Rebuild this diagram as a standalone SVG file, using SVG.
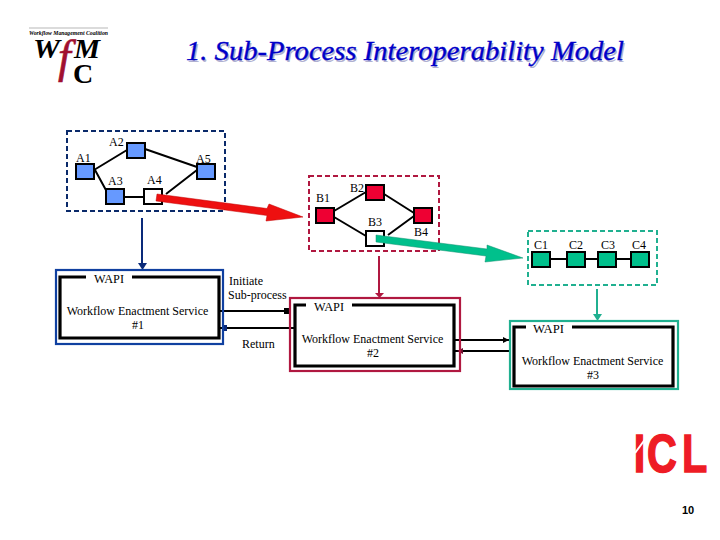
<svg xmlns="http://www.w3.org/2000/svg" width="720" height="540" viewBox="0 0 720 540">
<style>
text{font-family:"Liberation Serif","Times New Roman",serif;font-size:12px;fill:#000}
.edge{stroke:#000;stroke-width:2;fill:none}
.n{stroke:#000;stroke-width:2}
.a{fill:#6699ff}.b{fill:#ee0033}.c{fill:#00c08c}.w{fill:#fff}
.dash{fill:none;stroke-width:2;stroke-dasharray:5 3}
.outer{fill:none;stroke-width:2.2}
.inner{fill:none;stroke:#000;stroke-width:3.2}
.line{stroke:#000;stroke-width:2;fill:none}
.m{text-anchor:middle}
.ttl{font-size:28px;font-style:italic;stroke-width:.35}
</style>
<rect width="720" height="540" fill="#fff"/>
<g id="logo-wfmc">
<line x1="29" y1="28" x2="108" y2="28" stroke="#999" stroke-width="0.7"/>
<text x="29" y="35" textLength="79" lengthAdjust="spacingAndGlyphs" style="font-size:7px;font-style:italic;font-weight:bold">Workflow Management Coalition</text>
<text x="33" y="58" textLength="27" lengthAdjust="spacingAndGlyphs" style="font-size:27px;font-weight:bold;font-style:italic">W</text>
<text x="74" y="58" textLength="26" lengthAdjust="spacingAndGlyphs" style="font-size:27px;font-weight:bold;font-style:italic">M</text>
<text x="73" y="83" style="font-size:28px;font-weight:bold">C</text>
<text x="58" y="72" style="font-size:46px;font-style:italic;fill:#a01030;stroke:#a01030;stroke-width:.6">f</text>
</g>
<g id="title">
<text class="ttl" x="187.500" y="61.500" textLength="438" lengthAdjust="spacingAndGlyphs" style="fill:#b0b0d0">1. Sub-Process Interoperability Model</text>
<text class="ttl" x="186" y="60" textLength="438" lengthAdjust="spacingAndGlyphs" style="fill:#0000c8;stroke:#0000c8">1. Sub-Process Interoperability Model</text>
</g>
<g id="connectors">
<path class="edge" d="M94 170L127 150M95 170L107 192M145 149L197 167M166 194L197 170M124 197H144"/>
<path class="edge" d="M334 211L366 192M384 194L414 213M334 217L366 236M388 235L414 216"/>
<path class="edge" d="M550 259H567M585 259H598M616 259H631"/>
<path d="M142 218V264" stroke="#0a2a7a" stroke-width="2" fill="none"/><path d="M138 263H147L142.500 270Z" fill="#0a2a7a"/>
<path d="M379 256V294" stroke="#b01840" stroke-width="2" fill="none"/><path d="M375 293H384L379.500 298Z" fill="#b01840"/>
<path d="M597 289V315" stroke="#20b090" stroke-width="2" fill="none"/><path d="M593 314H602L597.500 321Z" fill="#20b090"/>
<path class="line" d="M220 311H290"/><path d="M284 308H289V314H284Z" fill="#000"/>
<path class="line" d="M295 328H220"/><path d="M222 325H227V331H222Z" fill="#0a2a7a"/>
<path class="line" d="M454 340H510"/><path d="M503 337L509 340L503 343Z" fill="#000"/>
<path class="line" d="M510 351H455"/><path d="M463 348L457 351L463 354Z" fill="#701030"/>
</g>
<g id="group-a"><rect class="dash" x="67" y="131" width="158" height="80" stroke="#0a2a6a"/></g>
<g id="group-b"><rect class="dash" x="309" y="176" width="130" height="75" stroke="#b01840"/></g>
<g id="group-c"><rect class="dash" x="528" y="231" width="129" height="54" stroke="#20b090"/></g>
<g id="A1"><rect class="n a" x="76" y="164" width="18" height="15"/><text x="76" y="162">A1</text></g>
<g id="A2"><rect class="n a" x="127" y="143" width="18" height="15"/><text x="109" y="146">A2</text></g>
<g id="A3"><rect class="n a" x="106" y="189" width="18" height="15"/><text x="108" y="185">A3</text></g>
<g id="A4"><rect class="n w" x="144" y="189" width="18" height="15"/><text x="147" y="184">A4</text></g>
<g id="A5"><rect class="n a" x="197" y="164" width="18" height="15"/><text x="196" y="163">A5</text></g>
<g id="B1"><rect class="n b" x="316" y="208" width="18" height="15"/><text x="316" y="202">B1</text></g>
<g id="B2"><rect class="n b" x="366" y="185" width="18" height="15"/><text x="350" y="192">B2</text></g>
<g id="B3"><rect class="n w" x="366" y="231" width="18" height="15"/><text x="368" y="226">B3</text></g>
<g id="B4"><rect class="n b" x="414" y="208" width="18" height="15"/><text x="414" y="236">B4</text></g>
<g id="C1"><rect class="n c" x="532" y="252" width="18" height="15"/><text x="534" y="249">C1</text></g>
<g id="C2"><rect class="n c" x="567" y="252" width="18" height="15"/><text x="569" y="249">C2</text></g>
<g id="C3"><rect class="n c" x="598" y="252" width="18" height="15"/><text x="601" y="249">C3</text></g>
<g id="C4"><rect class="n c" x="631" y="252" width="18" height="15"/><text x="632" y="249">C4</text></g>
<g id="arrow-red"><path d="M157 194L267 208.500L269 204L303 217L266 221L267 215.500L156 201Z" fill="#ee1010" stroke="#c00000" stroke-width="0.500"/></g>
<g id="arrow-green"><path d="M376 235L487 249L487 245L523 258L485 262L486 256L376 242Z" fill="#00c08c" stroke="#109070" stroke-width="0.500"/></g>
<g id="service-1">
<rect class="outer" x="56" y="270" width="167" height="74" stroke="#1040a0"/>
<path class="inner" d="M86 277H60V338H219V277H132"/>
<text x="94" y="283" textLength="30" lengthAdjust="spacingAndGlyphs">WAPI</text>
<text x="137.500" y="315" class="m">Workflow Enactment Service</text>
<text x="138" y="329" class="m">#1</text>
</g>
<g id="service-2">
<rect class="outer" x="290" y="298" width="170" height="73" stroke="#b01840"/>
<path class="inner" d="M306 305H295V366H454V305H352"/>
<text x="314" y="311" textLength="30" lengthAdjust="spacingAndGlyphs">WAPI</text>
<text x="372.500" y="343" class="m">Workflow Enactment Service</text>
<text x="373" y="357" class="m">#2</text>
</g>
<g id="service-3">
<rect class="outer" x="510" y="321" width="168" height="68" stroke="#20b090"/>
<path class="inner" d="M526 327H514V386H673V327H572"/>
<text x="533" y="333" textLength="31" lengthAdjust="spacingAndGlyphs">WAPI</text>
<text x="592.500" y="365" class="m">Workflow Enactment Service</text>
<text x="593" y="379" class="m">#3</text>
</g>
<g id="labels">
<text x="229" y="285">Initiate</text>
<text x="228" y="299">Sub-process</text>
<text x="242" y="348">Return</text>
</g>
<g id="logo-icl">
<text transform="translate(636 472) scale(.78 1)" x="-3 14 59" y="0" style="font-family:'Liberation Sans',Arial,sans-serif;font-size:53px;font-weight:bold;fill:#ee1c25;stroke:#ee1c25;stroke-width:1.500">ICL</text>
<line x1="649" y1="434" x2="635" y2="453" stroke="#fff" stroke-width="2"/>
</g>
<text id="page-number" x="682" y="514" style="font-family:'Liberation Sans',Arial,sans-serif;font-size:11px;font-weight:bold">10</text>
</svg>
